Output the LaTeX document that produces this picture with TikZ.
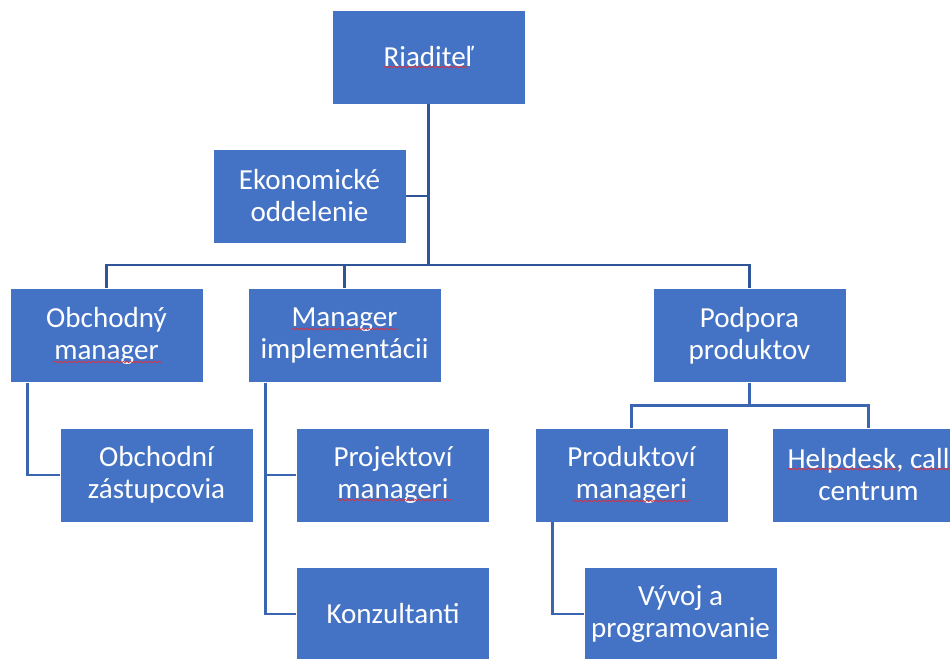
\documentclass[tikz,border=0pt]{standalone}
\usepackage{fontspec}
\setmainfont{Carlito}
\usepackage{xcolor}
\usepackage{tikz}
\usetikzlibrary{positioning,decorations.pathmorphing}
\definecolor{boxblue}{HTML}{4472C4}
\definecolor{linedark}{HTML}{2F5597}
\definecolor{linemid}{HTML}{3B64B1}
\definecolor{spell}{HTML}{E0303A}
\tikzset{
  orgbox/.style={rectangle,fill=boxblue,draw=white,line width=0.6pt,
    minimum width=144.75pt,minimum height=70.5pt,inner sep=0pt,
    align=center,text=white,font=\fontsize{21.8}{24}\selectfont},
  topline/.style={draw=linedark,line width=2.1pt},
  subline/.style={draw=linemid,line width=1.9pt},
  squiggle/.style={draw=spell,line width=0.5pt,
    decorate,decoration={snake,amplitude=0.6pt,segment length=2.6pt}}
}

\begin{document}
\begin{tikzpicture}[x=0.75pt,y=-0.75pt]
\useasboundingbox (0,0) rectangle (950,659);
% top level
\node[orgbox] (riad) at (428.5,57) {Riaditeľ};
\node[orgbox] (ekon) at (309.5,196) {Ekonomické\\oddelenie};
\coordinate (bus) at (428.5,265);

% second level
\node[orgbox] (obch) at (106.5,335.5) {Obchodný\\manager};
\node[orgbox] (impl) at (344.5,335.5) {Manager\\implementácii};
\node[orgbox] (podp) at (749.5,335.5) {Podpora\\produktov};

% third level
\node[orgbox] (zast) at (156.5,475) {Obchodní\\zástupcovia};
\node[orgbox] (proj) at (393,475) {Projektoví\\manageri};
\node[orgbox] (konz) at (393,614) {Konzultanti};
\node[orgbox] (prod) at (631.5,475) {Produktoví\\manageri};
\node[orgbox] (help) at (868.5,475) {Helpdesk, call\\centrum};
\node[orgbox] (vyvo) at (680.5,614) {Vývoj a\\programovanie};
\coordinate (pbus) at (749.5,405.5);

% connectors
\draw[topline] (riad.south) -- (bus);
\draw[topline] (ekon.east) -- (ekon.east -| riad.south);
\draw[topline] (obch.north) |- (bus) -| (podp.north);
\draw[topline] (impl.north) -- (impl.north |- bus);

\draw[subline] ([xshift=13.5pt]obch.south west) |- (zast.west);
\draw[subline] ([xshift=13.5pt]impl.south west) |- (konz.west);
\draw[subline] ([xshift=13.5pt]impl.south west |- proj.west) -- (proj.west);
\draw[subline] (podp.south) -- (pbus);
\draw[subline] (prod.north) |- (pbus) -| (help.north);
\draw[subline] ([xshift=13.5pt]prod.south west) |- (vyvo.west);

% spell-check marks
\draw[squiggle] ([shift={(-45.5,10)}]riad.center) -- ++(84,0);
\draw[squiggle] ([shift={(-53.5,26.5)}]obch.center) -- ++(109,0);
\draw[squiggle] ([shift={(-52.5,-6.5)}]impl.center) -- ++(106,0);
\draw[squiggle] ([shift={(-55,25)}]proj.center) -- ++(114,0);
\draw[squiggle] ([shift={(-58.5,26)}]prod.center) -- ++(117,0);
\draw[squiggle] ([shift={(-81.5,-6)}]help.center) -- ++(111,0);
\draw[squiggle] ([shift={(44.5,-6)}]help.center) -- ++(40,0);
\end{tikzpicture}
\end{document}
